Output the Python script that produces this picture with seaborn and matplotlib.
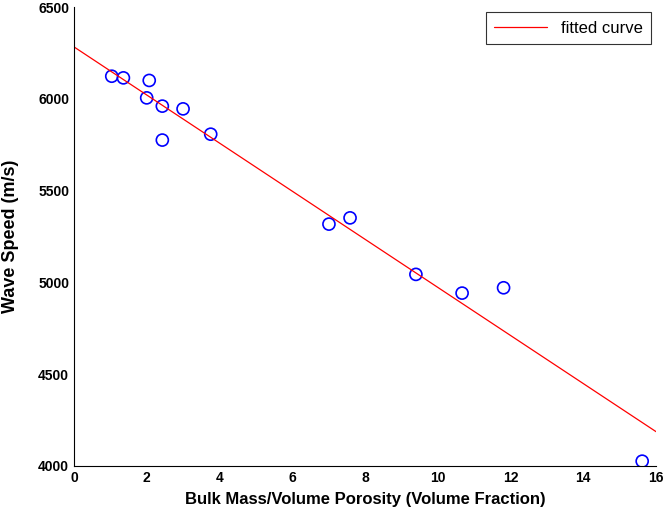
import matplotlib
matplotlib.use("Agg")
import matplotlib.pyplot as plt
import seaborn as sns
import pandas as pd

# measured points (porosity vs wave speed)
porosity = [1.04, 1.36, 2.07, 2.00, 2.43, 3.00, 3.76, 2.43, 7.01, 7.59, 9.40, 10.67, 11.81, 15.62]
wave_speed = [6124, 6115, 6101, 6006, 5961, 5946, 5808, 5776, 5318, 5352, 5044, 4942, 4971, 4026]

# fitted line end points
fit_x = [0, 16]
fit_y = [6284, 4187]

df = pd.DataFrame({"x": porosity, "y": wave_speed})
fit = pd.DataFrame({"x": fit_x, "y": fit_y})

sns.set_style("white")
plt.rcParams["font.family"] = ["Liberation Sans", "DejaVu Sans"]
plt.rcParams["font.weight"] = "bold"
plt.rcParams["text.color"] = "black"
plt.rcParams["axes.labelcolor"] = "black"

fig = plt.figure(figsize=(6.66, 5.16), dpi=100)
ax = fig.add_axes([0.111, 0.097, 0.874, 0.889])

sns.scatterplot(data=df, x="x", y="y", ax=ax, marker="o", s=75,
                facecolors="none", edgecolor="#0000ff", linewidth=1.2, legend=False)
sns.lineplot(data=fit, x="x", y="y", ax=ax, color="#ff0000", linewidth=0.9,
             label="fitted curve")

ax.set_xlim(0, 16)
ax.set_ylim(4000, 6500)
ax.set_xticks(range(0, 17, 2))
ax.set_yticks(range(4000, 6501, 500))
ax.tick_params(direction="in", length=5, width=0.8, labelsize=10, colors="black")

for side in ["top", "right"]:
    ax.spines[side].set_visible(False)
for side in ["left", "bottom"]:
    ax.spines[side].set_color("black")
    ax.spines[side].set_linewidth(0.8)

ax.set_xlabel("Bulk Mass/Volume Porosity (Volume Fraction)", fontsize=12, fontweight="bold", labelpad=5)
ax.set_ylabel("Wave Speed (m/s)", fontsize=13, fontweight="bold", labelpad=14)

leg = ax.legend(loc="upper right", prop={"size": 12, "weight": "normal"}, frameon=True,
                fancybox=False, handlelength=3.2, borderpad=0.5, borderaxespad=0.3)
leg.get_frame().set_edgecolor("black")
leg.get_frame().set_linewidth(0.8)

fig.savefig("out.png", dpi=100)
